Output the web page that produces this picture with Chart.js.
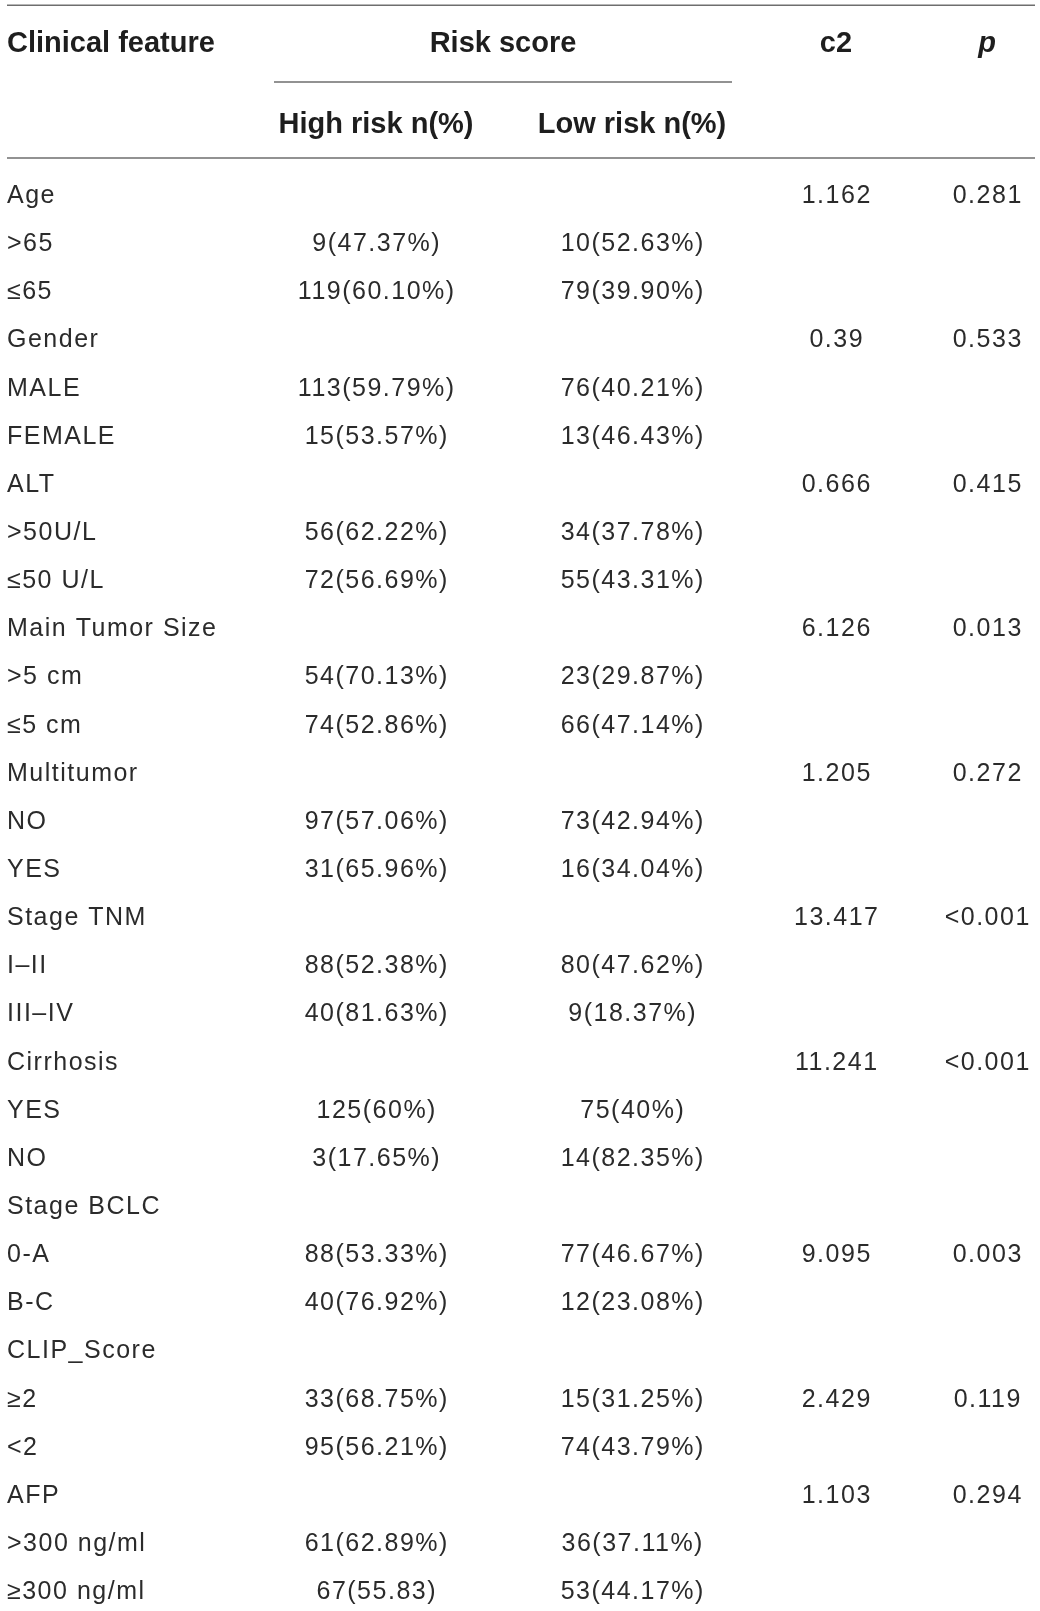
<!DOCTYPE html>
<html>
<head>
<meta charset="utf-8">
<title>Risk score vs clinical features</title>
<script src="https://cdn.jsdelivr.net/npm/chart.js@4.4.1/dist/chart.umd.min.js"></script>
<style>
  html, body { margin: 0; padding: 0; background: #fff; }
  #wrap { width: 1040px; height: 1611px; }
</style>
</head>
<body>
<div id="wrap"><canvas id="table" width="1040" height="1611"></canvas></div>
<script>
// table content, one entry per body row
const features = [
  'Age', '>65', '≤65',
  'Gender', 'MALE', 'FEMALE',
  'ALT', '>50U/L', '≤50 U/L',
  'Main Tumor Size', '>5 cm', '≤5 cm',
  'Multitumor', 'NO', 'YES',
  'Stage TNM', 'I–II', 'III–IV',
  'Cirrhosis', 'YES', 'NO',
  'Stage BCLC', '0-A', 'B-C',
  'CLIP_Score', '≥2', '<2',
  'AFP', '>300 ng/ml', '≥300 ng/ml',
];
const highRisk = [
  '', '9(47.37%)', '119(60.10%)',
  '', '113(59.79%)', '15(53.57%)',
  '', '56(62.22%)', '72(56.69%)',
  '', '54(70.13%)', '74(52.86%)',
  '', '97(57.06%)', '31(65.96%)',
  '', '88(52.38%)', '40(81.63%)',
  '', '125(60%)', '3(17.65%)',
  '', '88(53.33%)', '40(76.92%)',
  '', '33(68.75%)', '95(56.21%)',
  '', '61(62.89%)', '67(55.83)',
];
const lowRisk = [
  '', '10(52.63%)', '79(39.90%)',
  '', '76(40.21%)', '13(46.43%)',
  '', '34(37.78%)', '55(43.31%)',
  '', '23(29.87%)', '66(47.14%)',
  '', '73(42.94%)', '16(34.04%)',
  '', '80(47.62%)', '9(18.37%)',
  '', '75(40%)', '14(82.35%)',
  '', '77(46.67%)', '12(23.08%)',
  '', '15(31.25%)', '74(43.79%)',
  '', '36(37.11%)', '53(44.17%)',
];
const chi2 = [
  '1.162', '', '',
  '0.39', '', '',
  '0.666', '', '',
  '6.126', '', '',
  '1.205', '', '',
  '13.417', '', '',
  '11.241', '', '',
  '', '9.095', '',
  '', '2.429', '',
  '1.103', '', '',
];
const pValues = [
  '0.281', '', '',
  '0.533', '', '',
  '0.415', '', '',
  '0.013', '', '',
  '0.272', '', '',
  '<0.001', '', '',
  '<0.001', '', '',
  '', '0.003', '',
  '', '0.119', '',
  '0.294', '', '',
];
const headerTop = ['Clinical feature', 'Risk score', 'c2', 'p'];
const headerSub = ['High risk n(%)', 'Low risk n(%)'];

// layout (pixels on the x scale, row units on the y scale)
const W = 1040, H = 1611;
const ROW_H = 48.14, FIRST_ROW = 194;
const col = { feature: 7, high: 376, low: 632, chi: 836, p: 987, ruleL: 7, ruleR: 1035, spanL: 274, spanR: 732 };
const rowPos = { head1: -3.178, head2: -1.475, ruleTop: -3.92, ruleSpan: -2.327, ruleHead: -0.748 };

const bodyFont = '25px "Liberation Sans", Arial, sans-serif';
const bodySpacing = 1.5;
const headFont = 'bold 29px "Liberation Sans", Arial, sans-serif';
const headItalic = 'italic bold 29px "Liberation Sans", Arial, sans-serif';
const textColor = '#2b2b2b';
const headColor = '#1e1e1e';
const ruleColor = '#6e6e6e';

function column(texts, x, align) {
  return {
    data: texts.map((t, i) => ({ x: x, y: i, text: t })),
    align: align,
    pointRadius: 0,
    showLine: false,
  };
}

const cellText = {
  id: 'cellText',
  afterDatasetsDraw(chart) {
    const ctx = chart.ctx;
    const xs = chart.scales.x, ys = chart.scales.y;
    ctx.save();

    // rules
    ctx.strokeStyle = ruleColor;
    ctx.lineWidth = 1.5;
    const rule = (x1, x2, r) => {
      const y = ys.getPixelForValue(r);
      ctx.beginPath();
      ctx.moveTo(xs.getPixelForValue(x1), y);
      ctx.lineTo(xs.getPixelForValue(x2), y);
      ctx.stroke();
    };
    rule(col.ruleL, col.ruleR, rowPos.ruleTop);
    rule(col.spanL, col.spanR, rowPos.ruleSpan);
    rule(col.ruleL, col.ruleR, rowPos.ruleHead);

    // header
    ctx.fillStyle = headColor;
    ctx.textBaseline = 'alphabetic';
    const head = (txt, x, r, align, font) => {
      ctx.font = font;
      ctx.textAlign = align;
      ctx.fillText(txt, xs.getPixelForValue(x), ys.getPixelForValue(r) + 10.5);
    };
    head(headerTop[0], col.feature, rowPos.head1, 'left', headFont);
    head(headerTop[1], (col.spanL + col.spanR) / 2, rowPos.head1, 'center', headFont);
    head(headerTop[2], col.chi, rowPos.head1, 'center', headFont);
    head(headerTop[3], col.p, rowPos.head1, 'center', headItalic);
    head(headerSub[0], col.high, rowPos.head2, 'center', headFont);
    head(headerSub[1], col.low, rowPos.head2, 'center', headFont);

    // body cells at the positions the scatter elements got
    ctx.font = bodyFont;
    ctx.fillStyle = textColor;
    if ('letterSpacing' in ctx) ctx.letterSpacing = bodySpacing + 'px';
    chart.data.datasets.forEach((ds, di) => {
      const meta = chart.getDatasetMeta(di);
      ctx.textAlign = ds.align;
      const shift = ds.align === 'center' ? bodySpacing / 2 : 0;
      meta.data.forEach((pt, i) => {
        const t = ds.data[i].text;
        if (t) ctx.fillText(t, pt.x + shift, pt.y + 9);
      });
    });
    ctx.restore();
  }
};

new Chart(document.getElementById('table'), {
  type: 'scatter',
  data: {
    datasets: [
      column(features, col.feature, 'left'),
      column(highRisk, col.high, 'center'),
      column(lowRisk, col.low, 'center'),
      column(chi2, col.chi, 'center'),
      column(pValues, col.p, 'center'),
    ],
  },
  options: {
    responsive: false,
    animation: false,
    devicePixelRatio: 1,
    layout: { padding: 0 },
    events: [],
    scales: {
      x: { type: 'linear', min: 0, max: W, display: false },
      y: {
        type: 'linear',
        reverse: true,
        min: -FIRST_ROW / ROW_H,
        max: (H - FIRST_ROW) / ROW_H,
        display: false,
      },
    },
    plugins: {
      legend: { display: false },
      tooltip: { enabled: false },
    },
  },
  plugins: [cellText],
});
</script>
</body>
</html>
